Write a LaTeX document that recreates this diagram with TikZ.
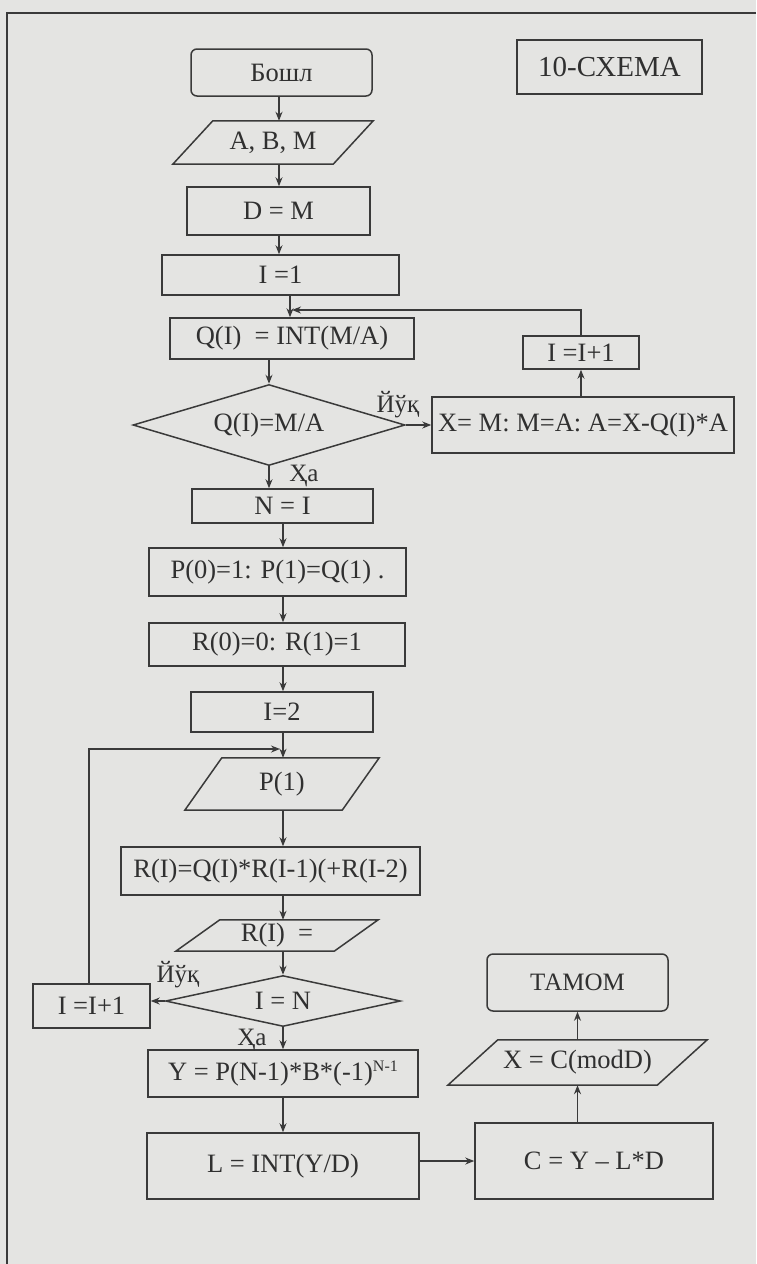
\documentclass[tikz,border=0pt]{standalone}
\usepackage{fontspec}
\setmainfont{Liberation Serif}
\usetikzlibrary{arrows.meta,shapes.geometric}
\definecolor{bgc}{RGB}{228,228,226}
\definecolor{lc}{RGB}{58,58,58}
\definecolor{tc}{RGB}{48,48,48}
\newcommand\paragram[2]{\draw[pio] ([xshift=#2pt]#1.north west) -- ([xshift=#2pt]#1.north east) -- ([xshift=-#2pt]#1.south east) -- ([xshift=-#2pt]#1.south west) -- cycle;}
\begin{document}
\begin{tikzpicture}[x=1pt,y=-1pt, font=\fontsize{26.5}{29}\selectfont, text=tc,
  box/.style={draw=lc, line width=1.5pt, rectangle, inner sep=0pt},
  term/.style={box, rounded corners=6pt},
  dec/.style={draw=lc, line width=1.5pt, diamond, inner sep=0pt},
  io/.style={inner sep=0pt},
  pio/.style={draw=lc, line width=1.5pt},
  arr/.style={draw=lc, line width=1.4pt, -{Stealth[length=9pt,width=7pt]}},
  lbl/.style={font=\fontsize{25}{27}\selectfont}]
\fill[bgc] (0,0) rectangle (756,1264);
\useasboundingbox (0,0) rectangle (756,1264);
% frame
\draw[lc, line width=2pt] (756,13) -- (7,13) -- (7,1264);

% nodes
\node[term, minimum width=181pt, minimum height=47pt] (start) at (281.5,72.5) {Бошл};
\node[box, minimum width=185pt, minimum height=54pt, font=\fontsize{29}{31}\selectfont] (title) at (609.5,67) {10-СХЕМА};
\node[io, minimum width=160pt, minimum height=43pt] (in) at (273,142.5) {A, B, M};
\paragram{in}{20}
\node[box, minimum width=183pt, minimum height=48pt] (dm) at (278.5,211) {D = M};
\node[box, minimum width=237pt, minimum height=40pt] (i1) at (280.5,275) {I =1};
\node[box, minimum width=244pt, minimum height=41pt] (q) at (292,338.5) {Q(I)\ \ = INT(M/A)};
\node[dec, aspect=3.36, minimum width=272pt, minimum height=81pt] (d1) at (269,425) {Q(I)=M/A};
\node[box, minimum width=116pt, minimum height=33pt] (inc1) at (581,352.5) {I =I+1};
\node[box, minimum width=302pt, minimum height=56pt] (xb) at (583,425) {X= M: M=A: A=X-Q(I)*A};
\node[box, minimum width=181pt, minimum height=34pt] (n) at (282.5,506) {N = I};
\node[box, minimum width=257pt, minimum height=48pt] (p) at (277.5,572) {P(0)=1: P(1)=Q(1) .};
\node[box, minimum width=256pt, minimum height=43pt] (r) at (277,644.5) {R(0)=0: R(1)=1};
\node[box, minimum width=182pt, minimum height=40pt] (i2) at (282,712) {I=2};
\node[io, minimum width=157pt, minimum height=52pt] (p1) at (282,784) {P(1)};
\paragram{p1}{18.5}
\node[box, minimum width=299pt, minimum height=48pt] (ri) at (270.5,871) {R(I)=Q(I)*R(I-1)(+R(I-2)};
\node[io, minimum width=158pt, minimum height=31pt] (rio) at (277,935.5) {R(I)\ \ =};
\paragram{rio}{22}
\node[dec, aspect=4.6, minimum width=235pt, minimum height=51pt] (d2) at (283,1001) {I = N};
\node[box, minimum width=117pt, minimum height=44pt] (inc2) at (91.5,1006) {I =I+1};
\node[box, minimum width=270pt, minimum height=47pt] (yb) at (283,1073.5) {Y = P(N-1)*B*(-1)\raisebox{0.7ex}{\fontsize{16}{17}\selectfont N-1}};
\node[box, minimum width=272pt, minimum height=66pt] (lb) at (283,1166) {L = INT(Y/D)};
\node[box, minimum width=238pt, minimum height=76pt] (cb) at (594,1161) {C = Y – L*D};
\node[io, minimum width=209pt, minimum height=45pt] (xo) at (577.5,1062.5) {X = C(modD)};
\paragram{xo}{25}
\node[term, minimum width=181pt, minimum height=57pt, font=\fontsize{25}{27}\selectfont] (fin) at (577.5,982.5) {ТАМОМ};

% labels
\node[lbl] (no1) at (398,405) {Йўқ};
\node[lbl] (ye1) at (304,476) {Ҳа};
\node[lbl] (no2) at (178,975) {Йўқ};
\node[lbl] (ye2) at (252,1040) {Ҳа};

% columns
\coordinate (cA) at (279,0);
\coordinate (cB) at (290,0);
\coordinate (cD) at (283,0);
\coordinate (j1) at (292,310);
\coordinate (j2) at (280,749);

% connectors
\draw[arr] (start.south -| cA) -- (in.north -| cA);
\draw[arr] (in.south -| cA) -- (dm.north -| cA);
\draw[arr] (dm.south -| cA) -- (i1.north -| cA);
\draw[arr] (i1.south -| cB) -- (q.north -| cB);
\draw[arr] (q.south -| d1.north) -- (d1.north);
\draw[arr] (d1.east) -- (xb.west |- d1.east);
\draw[arr] (xb.north -| inc1.south) -- (inc1.south);
\draw[arr] (inc1.north) |- (j1);
\draw[arr] (d1.south) -- (n.north -| d1.south);
\draw[arr] (n.south -| cD) -- (p.north -| cD);
\draw[arr] (p.south -| cD) -- (r.north -| cD);
\draw[arr] (r.south -| cD) -- (i2.north -| cD);
\draw[arr] (i2.south -| cD) -- (p1.north -| cD);
\draw[arr] (p1.south -| cD) -- (ri.north -| cD);
\draw[arr] (ri.south -| cD) -- (rio.north -| cD);
\draw[arr] (rio.south -| cD) -- (d2.north);
\draw[arr] (d2.west) -- (d2.west -| inc2.east);
\draw[arr] ([xshift=-2.5pt]inc2.north) |- (j2);
\draw[arr] (d2.south) -- (yb.north -| d2.south);
\draw[arr] (yb.south -| cD) -- (lb.north -| cD);
\draw[arr] (cb.west -| lb.east) -- (cb.west);
\draw[arr] (xo.south |- cb.north) -- (xo.south);
\draw[arr] (xo.north) -- (fin.south -| xo.north);
\end{tikzpicture}
\end{document}
